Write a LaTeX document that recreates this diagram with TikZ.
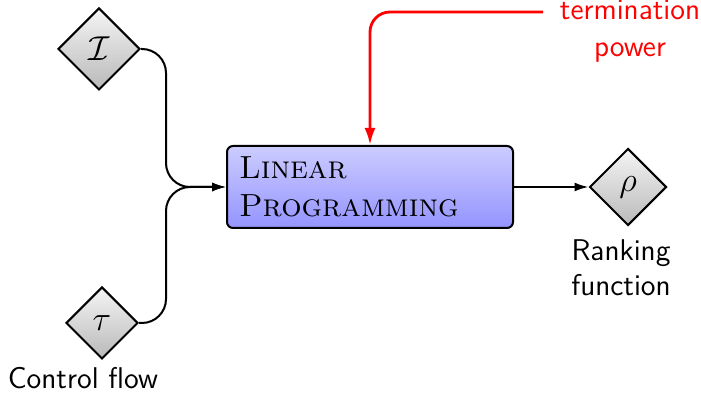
\documentclass[tikz,border=0pt]{standalone}
\usetikzlibrary{shapes.geometric,arrows.meta}
\begin{document}
\begin{tikzpicture}[x=0.5pt,y=-0.5pt,
  gem/.style={diamond,draw=black,line width=1pt,inner sep=0pt,
    top color=gray!8,bottom color=gray!55,font=\fontsize{16}{19}\selectfont},
  lpbox/.style={draw=black,line width=1pt,rounded corners=3pt,
    top color=blue!20,bottom color=blue!42,align=left,
    text width=131pt,inner xsep=6pt,minimum height=41pt,
    font=\fontsize{16}{19}\selectfont\scshape},
  lbl/.style={font=\sffamily\fontsize{15}{17.5}\selectfont,align=center},
  flow/.style={line width=1pt,-{Latex[length=7pt,width=4.5pt]}},
  power/.style={red,line width=1.4pt,-{Latex[length=8.5pt,width=5.5pt]}}]
\useasboundingbox (0,0) rectangle (701,394);

\node[gem,minimum size=41pt] (inv) at (99,49) {$\mathcal{I}$};
\node[gem,minimum size=36pt] (tau) at (102,323) {$\tau$};
\node[gem,minimum size=38.5pt] (rho) at (628,187) {$\rho$};
\node[lpbox] (lp) at (370,187) {Linear\\Programming};

\node[lbl,anchor=base] (cf) at (83,389) {Control flow};
\node[lbl] (rf) at (621,268) {Ranking\\function};
\node[lbl,red,font=\sffamily\fontsize{15}{18.5}\selectfont] (tp) at (630,31) {termination\\power};

\coordinate (src) at (543,12);

\draw[flow,rounded corners=12pt] (inv.east) -| (166,187) -- (lp.west);
\draw[flow,rounded corners=12pt] (tau.east) -| (166,187) -- (lp.west);
\draw[flow] (lp.east) -- (rho.west);
\draw[power,rounded corners=10pt] (src) -| (lp.north);
\end{tikzpicture}
\end{document}
